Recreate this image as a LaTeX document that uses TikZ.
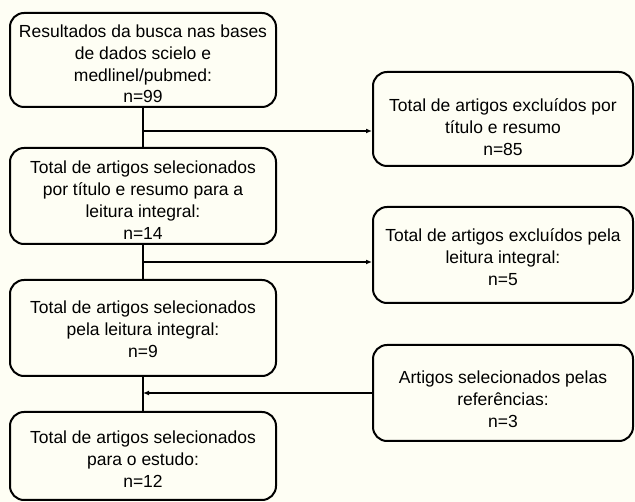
\documentclass[tikz,border=0pt]{standalone}
\usepackage{fontspec}
\setmainfont{Liberation Sans}
\usetikzlibrary{arrows.meta}
\definecolor{bg}{RGB}{254,254,244}
\begin{document}
\begin{tikzpicture}[x=1pt,y=-1pt,
  box/.style={draw, line width=2pt, rounded corners=14pt, inner sep=0pt, minimum width=266pt},
  rbox/.style={box, minimum width=260pt},
  txt/.style={align=center, font=\fontsize{17.5}{21.8}\selectfont, inner sep=0pt},
  conn/.style={line width=2pt},
  tipped/.style={conn, -{Latex[length=6pt,width=5pt]}}]
\fill[bg] (0,0) rectangle (635,502);
\useasboundingbox (0,0) rectangle (635,502);
\node[box, minimum height=94pt] (B1) at (143,60) {};
\node[box, minimum height=96pt] (B2) at (143,196) {};
\node[box, minimum height=96pt] (B3) at (143,328) {};
\node[box, minimum height=88pt] (B4) at (143,456) {};
\node[rbox, minimum height=94pt] (R1) at (503,119) {};
\node[rbox, minimum height=96pt] (R2) at (503,255) {};
\node[rbox, minimum height=96pt] (R3) at (503,393) {};
\node[txt] (B1t) at ([yshift=-4pt]B1.center) {Resultados da busca nas bases\\de dados scielo e\\medlinel/pubmed:\\n=99};
\node[txt] (B2t) at ([yshift=-4pt]B2.center) {Total de artigos selecionados\\por título e resumo para a\\leitura integral:\\n=14};
\node[txt] (B3t) at ([yshift=-1pt]B3.center) {Total de artigos selecionados\\pela leitura integral:\\n=9};
\node[txt] (B4t) at ([yshift=-3pt]B4.center) {Total de artigos selecionados\\para o estudo:\\n=12};
\node[txt] (R1t) at ([yshift=-8pt]R1.center) {Total de artigos excluídos por\\título e resumo\\n=85};
\node[txt] (R2t) at ([yshift=-2pt]R2.center) {Total de artigos excluídos pela\\leitura integral:\\n=5};
\node[txt] (R3t) at ([yshift=-6pt]R3.center) {Artigos selecionados pelas\\referências:\\n=3};
\coordinate (j1) at (143,131);
\coordinate (j2) at (143,262);
\coordinate (j3) at (143,393);
\draw[conn] (B1.south) -- (B2.north);
\draw[conn] (B2.south) -- (B3.north);
\draw[conn] (B3.south) -- (B4.north);
\draw[tipped] (j1) -- (j1 -| R1.west);
\draw[tipped] (j2) -- (j2 -| R2.west);
\draw[tipped] (R3.west) -- (j3);
\end{tikzpicture}
\end{document}
